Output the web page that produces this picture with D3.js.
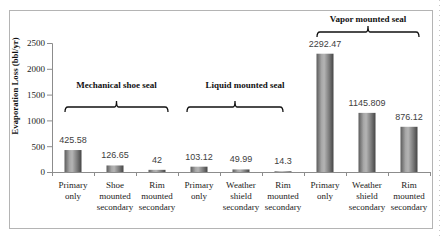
<!DOCTYPE html>
<html>
<head>
<meta charset="utf-8">
<script src="https://cdn.jsdelivr.net/npm/d3@7"></script>
<style>
  body { margin: 0; background: #fff; }
  svg { display: block; }
</style>
</head>
<body>
<div id="chart"></div>
<script>

//Data
var categories = [
    ["Primary", "only"],
    ["Shoe", "mounted", "secondary"],
    ["Rim", "mounted", "secondary"],
    ["Primary", "only"],
    ["Weather", "shield", "secondary"],
    ["Rim", "mounted", "secondary"],
    ["Primary", "only"],
    ["Weather", "shield", "secondary"],
    ["Rim", "mounted", "secondary"]
];
var values = [425.58, 126.65, 42, 103.12, 49.99, 14.3, 2292.47, 1145.809, 876.12];
var valueLabels = ["425.58", "126.65", "42", "103.12", "49.99", "14.3", "2292.47", "1145.809", "876.12"];
var yTicks = [0, 500, 1000, 1500, 2000, 2500];
var groupNames = ["Mechanical shoe seal", "Liquid mounted seal", "Vapor mounted seal"];
var groupFirst = [0, 3, 6];
var groupLast = [2, 5, 8];

//Layout
var w = 440;
var h = 240;
var margin = {top: 43, right: 10, bottom: 68, left: 52};

//Brace placement for each group: [left inset, right inset, line y, text y]
var braceLayout = [
    [13, 10, 107, 88],
    [9, 21, 107, 88],
    [13, 11, 32, 22]
];

var svg = d3.select("#chart")
            .append("svg")
            .attr("width", w)
            .attr("height", h);

//Outer frame
svg.append("rect")
    .attr("x", 9.5)
    .attr("y", 10.5)
    .attr("width", 423)
    .attr("height", 218)
    .attr("fill", "#fff")
    .attr("stroke", "#b4b4b4");

svg.append("line")
    .attr("x1", 439.5).attr("x2", 439.5)
    .attr("y1", 0).attr("y2", h)
    .attr("stroke", "#c8c8c8")
    .attr("stroke-dasharray", "1,4");

//Scales
var x = d3.scaleBand()
            .domain(d3.range(values.length))
            .range([margin.left, 430])
            .paddingInner(0)
            .paddingOuter(0);

var y = d3.scaleLinear()
            .domain([0, 2500])
            .range([172, 43]);

//Gradient for cylinder bars
var defs = svg.append("defs");
var grad = defs.append("linearGradient")
    .attr("id", "barGrad")
    .attr("x1", "0%").attr("x2", "100%")
    .attr("y1", "0%").attr("y2", "0%");
grad.append("stop").attr("offset", "0%").attr("stop-color", "#5c5c5c");
grad.append("stop").attr("offset", "30%").attr("stop-color", "#a8a8a8");
grad.append("stop").attr("offset", "45%").attr("stop-color", "#b4b4b4");
grad.append("stop").attr("offset", "75%").attr("stop-color", "#7a7a7a");
grad.append("stop").attr("offset", "100%").attr("stop-color", "#454545");

//Y axis
var yAxis = d3.axisLeft(y)
                .tickValues(yTicks)
                .tickFormat(d3.format("d"))
                .tickSize(5)
                .tickPadding(2);

var yg = svg.append("g")
    .attr("transform", "translate(" + margin.left + ",0)")
    .call(yAxis);
yg.select(".domain").attr("stroke", "#8c8c8c");
yg.selectAll(".tick line").attr("stroke", "#8c8c8c");
yg.selectAll("text")
    .attr("font-family", "Liberation Serif, serif")
    .attr("font-size", "9px")
    .attr("fill", "#222");

//Y axis title
svg.append("text")
    .attr("transform", "translate(18,86) rotate(-90)")
    .attr("text-anchor", "middle")
    .attr("font-family", "Liberation Serif, serif")
    .attr("font-weight", "bold")
    .attr("font-size", "8.8px")
    .attr("fill", "#111")
    .text("Evaporation Loss (bbl/yr)");

//X axis line and boundary ticks
svg.append("line")
    .attr("x1", x.range()[0]).attr("x2", x.range()[1])
    .attr("y1", y(0) + 0.5).attr("y2", y(0) + 0.5)
    .attr("stroke", "#8c8c8c");

var bounds = d3.range(values.length + 1).map(function(i) {
    return i < values.length ? x(i) : x(i - 1) + x.bandwidth();
});
svg.selectAll(".xtick")
    .data(bounds)
    .join("line")
    .attr("class", "xtick")
    .attr("x1", d => d + 0.5).attr("x2", d => d + 0.5)
    .attr("y1", y(0)).attr("y2", y(0) + 4)
    .attr("stroke", "#8c8c8c");

//Bars
var barW = 17;
svg.selectAll(".bar")
    .data(values)
    .join("rect")
    .attr("class", "bar")
    .attr("x", (d, i) => x(i) + x.bandwidth() / 2 - barW / 2)
    .attr("y", d => y(d))
    .attr("width", barW)
    .attr("height", d => y(0) - y(d))
    .attr("fill", "url(#barGrad)");

//Value labels
svg.selectAll(".val")
    .data(values)
    .join("text")
    .attr("class", "val")
    .attr("x", (d, i) => x(i) + x.bandwidth() / 2)
    .attr("y", d => y(d) - 7)
    .attr("text-anchor", "middle")
    .attr("font-family", "Liberation Sans, Arial, sans-serif")
    .attr("font-size", "9px")
    .attr("fill", "#404040")
    .text((d, i) => valueLabels[i]);

//Category labels
var cats = svg.selectAll(".cat")
    .data(categories)
    .join("text")
    .attr("class", "cat")
    .attr("text-anchor", "middle")
    .attr("font-family", "Liberation Serif, serif")
    .attr("font-size", "9px")
    .attr("fill", "#222");

cats.selectAll("tspan")
    .data((d, i) => d.map(function(t) { return {t: t, i: i}; }))
    .join("tspan")
    .attr("x", d => x(d.i) + x.bandwidth() / 2)
    .attr("y", (d, j) => 188 + j * 11)
    .text(d => d.t);

//Group braces and titles
function bracePath(x0, x1, yb) {
    var xm = (x0 + x1) / 2;
    return "M" + x0 + "," + (yb + 5) +
        " Q" + x0 + "," + yb + " " + (x0 + 3) + "," + yb +
        " L" + (xm - 2) + "," + yb +
        " Q" + xm + "," + yb + " " + xm + "," + (yb - 6) +
        " Q" + xm + "," + yb + " " + (xm + 2) + "," + yb +
        " L" + (x1 - 3) + "," + yb +
        " Q" + x1 + "," + yb + " " + x1 + "," + (yb + 5);
}

groupNames.forEach(function(name, g) {
    var lay = braceLayout[g];
    var x0 = x(groupFirst[g]) + lay[0];
    var x1 = x(groupLast[g]) + x.bandwidth() - lay[1];

    svg.append("path")
        .attr("d", bracePath(x0, x1, lay[2]))
        .attr("fill", "none")
        .attr("stroke", "#111")
        .attr("stroke-width", 1.3);

    svg.append("text")
        .attr("x", (x0 + x1) / 2 + (g == 1 ? 10 : 0))
        .attr("y", lay[3])
        .attr("text-anchor", "middle")
        .attr("font-family", "Liberation Serif, serif")
        .attr("font-weight", "bold")
        .attr("font-size", "9px")
        .attr("fill", "#111")
        .text(name);
});

</script>
</body>
</html>
